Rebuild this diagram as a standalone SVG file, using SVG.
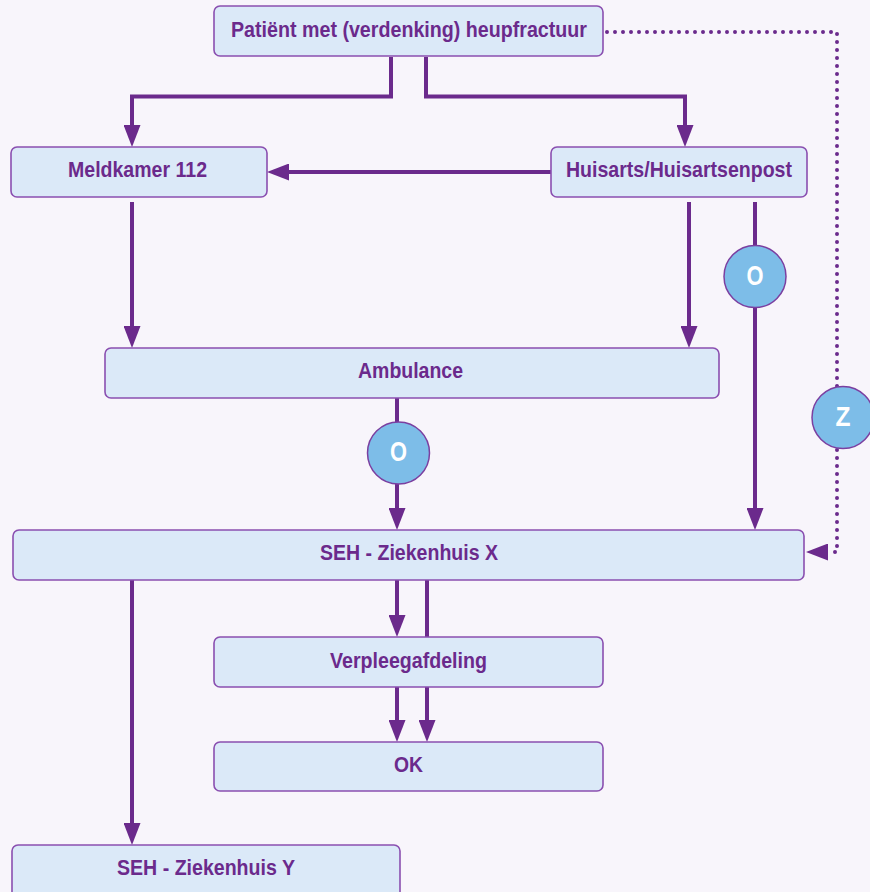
<svg xmlns="http://www.w3.org/2000/svg" width="870" height="892" viewBox="0 0 870 892">
<style>
.bg{fill:#f8f5fb}
.node rect{fill:#dbe9f8;stroke:#8a4fb0;stroke-width:1.6}
.node text{font-family:"Liberation Sans",Arial,sans-serif;font-weight:bold;font-size:21.5px;fill:#6b2a8c;text-anchor:middle}
.conn path{fill:none;stroke:#6b2a8c;stroke-width:4}
.conn path.dot{stroke-width:4;stroke-dasharray:0 8;stroke-linecap:round}
.badge circle{fill:#7dbde8;stroke:#7b3fa0;stroke-width:1.5}
.badge text{font-family:"Liberation Sans",Arial,sans-serif;font-weight:bold;font-size:27px;fill:#ffffff;text-anchor:middle}
</style>
<defs>
<marker id="arr" viewBox="0 0 22 17" refX="0" refY="8.5" markerWidth="22" markerHeight="17" markerUnits="userSpaceOnUse" orient="auto">
<path d="M0,0 L22,8.5 L0,17 z" fill="#6b2a8c"/>
</marker>
</defs>
<rect class="bg" x="0" y="0" width="870" height="892"/>
<g id="connectors" class="conn">
<path d="M391,57 V96.5 H132 V125" marker-end="url(#arr)"/>
<path d="M426,57 V96.5 H685 V125" marker-end="url(#arr)"/>
<path d="M551,172 H289" marker-end="url(#arr)"/>
<path d="M132,202 V326" marker-end="url(#arr)"/>
<path d="M689,202 V326" marker-end="url(#arr)"/>
<path d="M755,202 V508" marker-end="url(#arr)"/>
<path d="M397,398 V508" marker-end="url(#arr)"/>
<path d="M397,580 V615" marker-end="url(#arr)"/>
<path d="M427,580 V720" marker-end="url(#arr)"/>
<path d="M397,687 V720" marker-end="url(#arr)"/>
<path d="M132,580 V823" marker-end="url(#arr)"/>
<path class="dot" d="M607,32 H837 V552 H830"/>
<path d="M829,552 H828" style="stroke:none" marker-end="url(#arr)"/>
</g>
<g id="n-patient" class="node"><rect x="214" y="6" width="389" height="50" rx="6"/><text x="409" y="37" textLength="356" lengthAdjust="spacingAndGlyphs">Patiënt met (verdenking) heupfractuur</text></g>
<g id="n-meldkamer" class="node"><rect x="11" y="147" width="256" height="50" rx="6"/><text x="137.5" y="177" textLength="139" lengthAdjust="spacingAndGlyphs">Meldkamer 112</text></g>
<g id="n-huisarts" class="node"><rect x="551" y="147" width="256" height="50" rx="6"/><text x="679" y="177" textLength="226" lengthAdjust="spacingAndGlyphs">Huisarts/Huisartsenpost</text></g>
<g id="n-ambulance" class="node"><rect x="105" y="348" width="614" height="50" rx="6"/><text x="410.5" y="378" textLength="105" lengthAdjust="spacingAndGlyphs">Ambulance</text></g>
<g id="n-sehx" class="node"><rect x="13" y="530" width="791" height="50" rx="6"/><text x="409" y="560" textLength="178" lengthAdjust="spacingAndGlyphs">SEH - Ziekenhuis X</text></g>
<g id="n-verpleeg" class="node"><rect x="214" y="637" width="389" height="50" rx="6"/><text x="408.5" y="668" textLength="157" lengthAdjust="spacingAndGlyphs">Verpleegafdeling</text></g>
<g id="n-ok" class="node"><rect x="214" y="742" width="389" height="49" rx="6"/><text x="408.5" y="772" textLength="29" lengthAdjust="spacingAndGlyphs">OK</text></g>
<g id="n-sehy" class="node"><rect x="12" y="845" width="388" height="56" rx="6"/><text x="206" y="875" textLength="178" lengthAdjust="spacingAndGlyphs">SEH - Ziekenhuis Y</text></g>
<g id="b-o1" class="badge"><circle cx="755" cy="276.5" r="31"/><text x="755" y="284.5" textLength="17" lengthAdjust="spacingAndGlyphs">O</text></g>
<g id="b-o2" class="badge"><circle cx="398.5" cy="453" r="31"/><text x="398.5" y="461" textLength="17" lengthAdjust="spacingAndGlyphs">O</text></g>
<g id="b-z" class="badge"><circle cx="843" cy="417.5" r="31"/><text x="843" y="425.5" textLength="15" lengthAdjust="spacingAndGlyphs">Z</text></g>
</svg>
